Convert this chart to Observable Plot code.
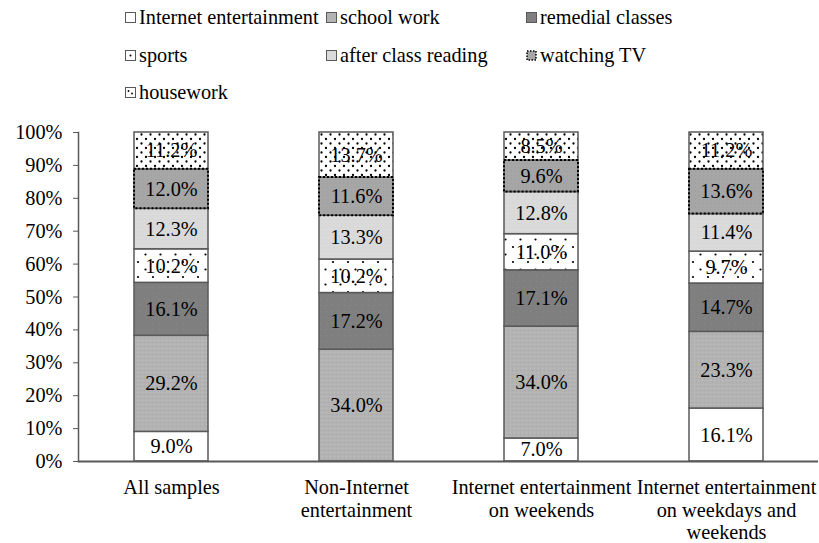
<!DOCTYPE html>
<html><head><meta charset="utf-8">
<script src="https://cdn.jsdelivr.net/npm/d3@7"></script>
<script src="https://cdn.jsdelivr.net/npm/@observablehq/plot@0.6"></script>
<style>
body{margin:0;background:#fff;font-family:"Liberation Serif","Times New Roman",serif;}
#wrap{position:relative;width:819px;height:543px;background:#fff;overflow:hidden;}
#legend{position:absolute;left:0;top:0;width:819px;height:110px;}
.item{position:absolute;display:flex;align-items:center;height:20px;font-size:20.3px;line-height:1;color:#000;white-space:nowrap;}
.item svg{margin-right:3px;flex:none;}
#chart{position:absolute;left:0;top:110px;}
</style></head><body>
<svg width="0" height="0" style="position:absolute">
<defs>
<pattern id="pSchool" patternUnits="userSpaceOnUse" width="4" height="4">
  <rect width="4" height="4" fill="#b3b3b3"/>
  <rect x="0" y="0" width="1" height="1" fill="#a8a8a8"/>
  <rect x="2" y="2" width="1" height="1" fill="#bebebe"/>
</pattern>
<pattern id="pRemedial" patternUnits="userSpaceOnUse" width="6" height="6">
  <rect width="6" height="6" fill="#7f7f7f"/>
  <rect x="2" y="3" width="1" height="1" fill="#8a8a8a"/>
</pattern>
<pattern id="pSports" patternUnits="userSpaceOnUse" width="15" height="15">
  <rect width="15" height="15" fill="#fff"/>
  <circle cx="3" cy="2" r="1.1" fill="#000"/>
  <circle cx="10.5" cy="9.5" r="1.1" fill="#000"/>
</pattern>
<pattern id="pReading" patternUnits="userSpaceOnUse" width="4" height="4">
  <rect width="4" height="4" fill="#dadada"/>
  <rect x="1" y="1" width="1" height="1" fill="#d2d2d2"/>
</pattern>
<pattern id="pTV" patternUnits="userSpaceOnUse" width="4" height="4">
  <rect width="4" height="4" fill="#a6a6a6"/>
  <rect x="3" y="1" width="1" height="1" fill="#9e9e9e"/>
</pattern>
<pattern id="pHouse" patternUnits="userSpaceOnUse" width="9" height="9">
  <rect width="9" height="9" fill="#fff"/>
  <circle cx="2" cy="2" r="1.15" fill="#000"/>
  <circle cx="6.5" cy="6.5" r="1.15" fill="#000"/>
</pattern>
</defs></svg>
<div id="wrap"><div id="legend"></div><div id="chart"></div></div>
<script>
// ---- data ----
const groups = ["All samples", "Non-Internet entertainment", "Internet entertainment on weekends", "Internet entertainment on weekdays and weekends"];
const groupLabels = ["All samples", "Non-Internet\nentertainment", "Internet entertainment\non weekends", "Internet entertainment\non weekdays and\nweekends"];
const activities = ["Internet entertainment", "school work", "remedial classes", "sports", "after class reading", "watching TV", "housework"];
const internetEntertainment = [9.0, 0, 7.0, 16.1];
const schoolWork = [29.2, 34.0, 34.0, 23.3];
const remedialClasses = [16.1, 17.2, 17.1, 14.7];
const sports = [10.2, 10.2, 11.0, 9.7];
const afterClassReading = [12.3, 13.3, 12.8, 11.4];
const watchingTV = [12.0, 11.6, 9.6, 13.6];
const housework = [11.2, 13.7, 8.5, 11.2];
const yTicks = [0, 10, 20, 30, 40, 50, 60, 70, 80, 90, 100];

const series = [internetEntertainment, schoolWork, remedialClasses, sports, afterClassReading, watchingTV, housework];
const fillRange = ["#ffffff", "url(#pSchool)", "url(#pRemedial)", "url(#pSports)", "url(#pReading)", "url(#pTV)", "url(#pHouse)"];

const rows = [];
groups.forEach((g, i) => activities.forEach((a, j) => rows.push({group: g, activity: a, value: series[j][i]})));

// ---- legend ----
const swatch = {
  "Internet entertainment": '<rect x="0.5" y="0.5" width="10" height="10" fill="#fff" stroke="#595959"/>',
  "school work": '<rect x="0.5" y="0.5" width="10" height="10" fill="#b3b3b3" stroke="#595959"/>',
  "remedial classes": '<rect x="0.5" y="0.5" width="10" height="10" fill="#7f7f7f" stroke="#595959"/>',
  "sports": '<rect x="0.5" y="0.5" width="10" height="10" fill="#fff" stroke="#595959"/><circle cx="5.5" cy="5.5" r="1" fill="#000"/>',
  "after class reading": '<rect x="0.5" y="0.5" width="10" height="10" fill="#dadada" stroke="#595959"/>',
  "watching TV": '<rect x="1" y="1" width="9" height="9" fill="#a6a6a6" stroke="#000" stroke-width="1.5" stroke-dasharray="1.5,1.5"/>',
  "housework": '<rect x="0.5" y="0.5" width="10" height="10" fill="#fff" stroke="#595959"/><circle cx="3.5" cy="4" r="0.9" fill="#000"/><circle cx="7" cy="6.5" r="0.9" fill="#000"/>'
};
const colX = [125, 326, 526], rowY = [17, 55, 92];
const legend = document.getElementById("legend");
activities.forEach((a, i) => {
  const d = document.createElement("div");
  d.className = "item";
  d.style.left = colX[i % 3] + "px";
  d.style.top = (rowY[Math.floor(i / 3)] - 10) + "px";
  d.innerHTML = '<svg width="11" height="11">' + swatch[a] + '</svg><span></span>';
  d.querySelector("span").textContent = a;
  legend.appendChild(d);
});

// ---- chart ----
const FS = 20.3;
const chart = Plot.plot({
  width: 819, height: 433,
  marginLeft: 78, marginRight: 1, marginTop: 22, marginBottom: 82,
  style: {fontFamily: '"Liberation Serif","Times New Roman",serif', fontSize: FS + "px", color: "#000", background: "transparent", overflow: "visible"},
  x: {domain: groups, paddingInner: 0.6, paddingOuter: 0.3, axis: null, label: null},
  y: {domain: [0, 100], axis: null, label: null},
  color: {type: "ordinal", domain: activities, range: fillRange},
  opacity: {type: "identity"},
  marks: [
    Plot.barY(rows, Plot.stackY({x: "group", y: "value", fill: "activity", stroke: "#595959", strokeWidth: 1.5})),
    Plot.barY(rows, Plot.stackY({x: "group", y: "value", z: "activity", fill: "none", stroke: "#000", strokeWidth: 2, strokeDasharray: "2,2",
      strokeOpacity: d => d.activity === "watching TV" ? 1 : 0})),
    Plot.text(rows, Plot.stackY({x: "group", y: "value", text: d => d.value > 0 ? d.value.toFixed(1) + "%" : "", fill: "#000", fontSize: FS})),
    Plot.ruleY([0], {stroke: "#595959", strokeWidth: 2}),
    Plot.frame({anchor: "left", stroke: "#595959", strokeWidth: 1.5}),
    Plot.axisY({ticks: yTicks, tickFormat: d => d + "%", tickSize: 5, tickPadding: 11, stroke: "#595959", fill: "#000", fontSize: FS, label: null}),
    Plot.axisX({tickSize: 0, tickPadding: 17, tickFormat: d => groupLabels[groups.indexOf(d)], lineHeight: 1.1, fill: "#000", fontSize: FS, label: null})
  ]
});
document.getElementById("chart").appendChild(chart);
</script>
</body></html>
